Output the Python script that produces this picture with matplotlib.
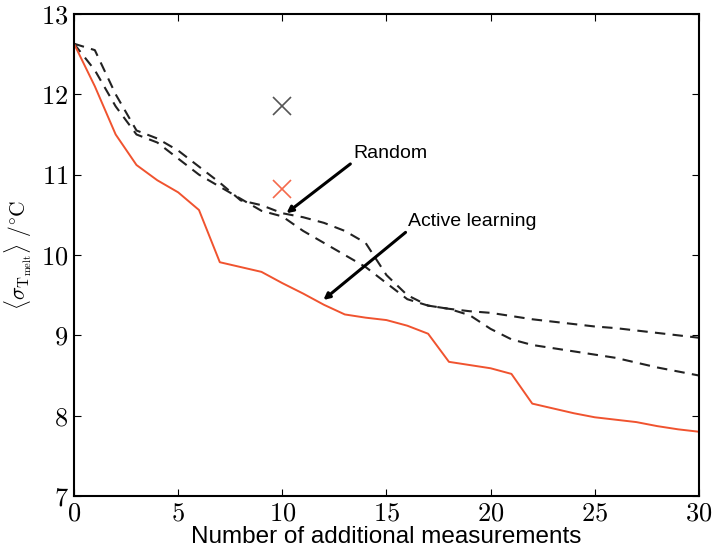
import matplotlib
matplotlib.use("Agg")
import matplotlib.pyplot as plt

plt.rcParams['mathtext.fontset'] = 'cm'
plt.rcParams['font.family'] = ['Liberation Sans', 'DejaVu Sans']

# data
n_meas = list(range(31))
active = [12.63, 12.1, 11.5, 11.12, 10.93, 10.78, 10.56, 9.91, 9.85, 9.79,
          9.65, 9.52, 9.38, 9.26, 9.22, 9.19, 9.12, 9.02, 8.67, 8.63,
          8.59, 8.52, 8.15, 8.09, 8.03, 7.98, 7.95, 7.92, 7.87, 7.83, 7.80]
random_1 = [12.63, 12.55, 12.0, 11.55, 11.45, 11.3, 11.1, 10.9, 10.68, 10.62,
            10.52, 10.47, 10.4, 10.3, 10.15, 9.75, 9.5, 9.37, 9.33, 9.3,
            9.28, 9.24, 9.2, 9.17, 9.14, 9.11, 9.09, 9.06, 9.03, 9.0, 8.97]
random_2 = [12.63, 12.3, 11.85, 11.5, 11.4, 11.2, 11.0, 10.85, 10.7, 10.55,
            10.48, 10.3, 10.15, 10.0, 9.85, 9.65, 9.45, 9.37, 9.33, 9.25,
            9.08, 8.95, 8.88, 8.84, 8.8, 8.76, 8.72, 8.66, 8.6, 8.55, 8.5]
cross_x = [10, 10]
cross_y = [11.85, 10.82]
cross_col = ['#555555', '#f56a4c']

xticks = [0, 5, 10, 15, 20, 25, 30]
yticks = [7, 8, 9, 10, 11, 12, 13]

fig = plt.figure(figsize=(7.15, 5.57), dpi=100)
ax = fig.add_axes([0.1035, 0.1095, 0.874, 0.8654])

ax.plot(n_meas, random_1, '--', color='#222222', lw=1.5, dashes=(5, 3.5))
ax.plot(n_meas, random_2, '--', color='#222222', lw=1.5, dashes=(5, 3.5))
ax.plot(n_meas, active, '-', color='#f0532f', lw=1.4)

for cx, cy, cc in zip(cross_x, cross_y, cross_col):
    ax.plot(cx, cy, 'x', color=cc, ms=13, mew=1.2)

# arrow tail sits at the lower left corner of the text
arr = dict(arrowstyle='-|>', color='k', lw=2.2, mutation_scale=9,
           shrinkA=0, shrinkB=0, relpos=(0, 0))
ax.annotate('Random', xy=(10.2, 10.52), xytext=(13.4, 11.16),
            fontsize=14, ha='left', va='bottom', arrowprops=arr)
ax.annotate('Active learning', xy=(11.97, 9.44), xytext=(16.05, 10.31),
            fontsize=14, ha='left', va='bottom', arrowprops=arr)

ax.set_xlim(0, 30)
ax.set_ylim(7, 13)
ax.set_xticks(xticks)
ax.set_xticklabels(['$%d$' % t for t in xticks])
ax.set_yticks(yticks)
ax.set_yticklabels(['$%d$' % t for t in yticks])
ax.tick_params(direction='in', length=5, top=True, right=True, labelsize=19, pad=4)
for s in ax.spines.values():
    s.set_linewidth(1.5)

ax.set_xlabel('Number of additional measurements', fontsize=17.5, labelpad=0)
ax.set_ylabel(r'$\langle\sigma_{\mathrm{T}_{\mathrm{melt}}}\rangle\ /{}^{\circ}\mathrm{C}$',
              fontsize=15.5, labelpad=5)

fig.savefig('out.png', dpi=100)
